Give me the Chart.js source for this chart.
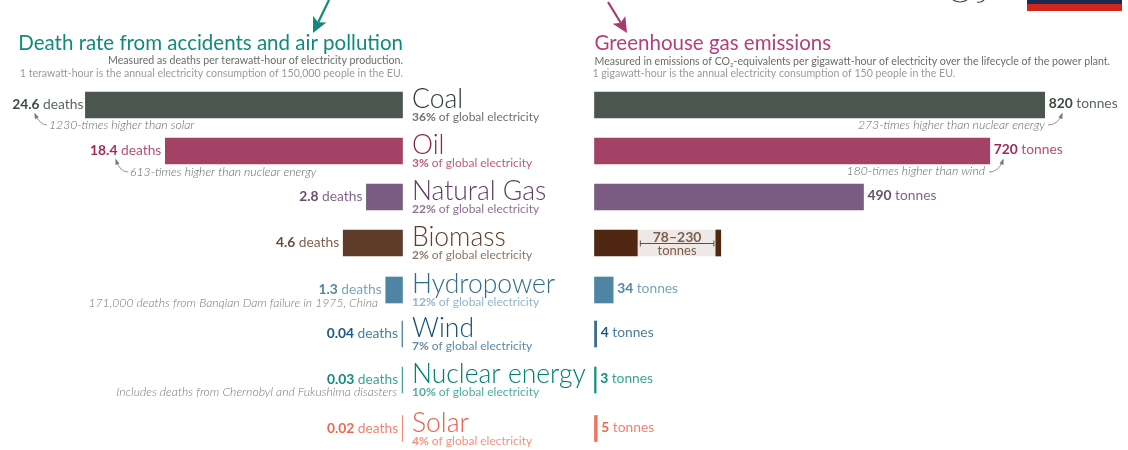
<!DOCTYPE html>
<html>
<head>
<meta charset="utf-8">
<title>Death rate and greenhouse gas emissions by energy source</title>
<script src="https://cdn.jsdelivr.net/npm/chart.js@4"></script>
<style>
  html, body { margin: 0; padding: 0; background: #fff; }
  #wrap { position: relative; width: 1128px; height: 450px; overflow: hidden; }
</style>
</head>
<body>
<div id="wrap"><canvas id="energyChart" width="1128" height="450"></canvas></div>
<script>
// data
const categories = ['Coal', 'Oil', 'Natural Gas', 'Biomass', 'Hydropower', 'Wind', 'Nuclear energy', 'Solar'];
const deathRates = [24.6, 18.4, 2.8, 4.6, 1.3, 0.04, 0.03, 0.02];
const emissions = [820, 720, 490, 78, 34, 4, 3, 5];
const biomassRange = [78, 230];
const biomassCapStart = 221;
const electricityShare = [36, 3, 22, 2, 12, 7, 10, 4];

// styles
const barColours = ['#4a564e', '#a34264', '#7a5b81', '#5f3b2a', '#5084a4', '#3c6f92', '#18917f', '#f4705c'];
const rightBarColours = ['#4a564e', '#a34264', '#7a5b81', '#502710', '#5084a4', '#3c6f92', '#18917f', '#f4705c'];
const nameColours = ['#2f3c34', '#8f2549', '#5e3d67', '#5f3e2a', '#2f6d90', '#124f76', '#00806e', '#ea5c45'];
const boldColours = ['#3d4a42', '#a32a58', '#6b4a73', '#6b4a35', '#4f86a6', '#1d5a80', '#0f8a78', '#ef6650'];
const unitColours = ['#5b665f', '#b34f75', '#83648b', '#7d5f4c', '#7aa3bb', '#4b7d9b', '#3ea595', '#f6806d'];
const shareColours = ['#6a736d', '#bb5c80', '#8f7196', '#8e7565', '#93b5c9', '#5e8aa6', '#4fae9f', '#f88f7e'];

// layout, in canvas pixels
const W = 1128;
const rowY = [105, 151, 197, 243, 290, 334, 380, 428.5];
const leftZero = 402.5, leftScale = 12.89;
const rightZero = 594.5, rightScale = 0.549;
const nameX = 412;
const FONT = 'Lato, "Open Sans", sans-serif';

function rows(values) {
  return values.map((v, i) => ({ x: v, y: rowY[i] }));
}

// draws a run of differently styled pieces; align is for the whole run
function drawRun(ctx, pieces, x, y, align) {
  let total = 0;
  pieces.forEach(p => { ctx.font = p.font; total += ctx.measureText(p.text).width; });
  let cx = align === 'right' ? x - total : x;
  ctx.textAlign = 'left';
  ctx.textBaseline = 'alphabetic';
  pieces.forEach(p => {
    ctx.font = p.font;
    ctx.fillStyle = p.color;
    ctx.fillText(p.text, cx, y + (p.dy || 0));
    cx += ctx.measureText(p.text).width;
  });
}

function text(ctx, s, x, y, font, color, align) {
  ctx.font = font;
  ctx.fillStyle = color;
  ctx.textAlign = align || 'left';
  ctx.textBaseline = 'alphabetic';
  ctx.fillText(s, x, y);
}

function curvedArrow(ctx, x0, y0, cx, cy, x1, y1) {
  ctx.strokeStyle = '#777';
  ctx.fillStyle = '#777';
  ctx.lineWidth = 0.8;
  ctx.beginPath();
  ctx.moveTo(x0, y0);
  ctx.quadraticCurveTo(cx, cy, x1, y1);
  ctx.stroke();
  const a = Math.atan2(y1 - cy, x1 - cx);
  ctx.beginPath();
  ctx.moveTo(x1 + 1.5 * Math.cos(a), y1 + 1.5 * Math.sin(a));
  ctx.lineTo(x1 + 5 * Math.cos(a + 2.7), y1 + 5 * Math.sin(a + 2.7));
  ctx.lineTo(x1 + 5 * Math.cos(a - 2.7), y1 + 5 * Math.sin(a - 2.7));
  ctx.closePath();
  ctx.fill();
}

function bigArrow(ctx, x0, y0, x1, y1, color) {
  const a = Math.atan2(y1 - y0, x1 - x0);
  const neck = 12;
  ctx.strokeStyle = color;
  ctx.fillStyle = color;
  ctx.lineWidth = 2.2;
  ctx.beginPath();
  ctx.moveTo(x0, y0);
  ctx.lineTo(x1 - neck * Math.cos(a), y1 - neck * Math.sin(a));
  ctx.stroke();
  ctx.beginPath();
  ctx.moveTo(x1, y1);
  ctx.lineTo(x1 - 17 * Math.cos(a + 0.45), y1 - 17 * Math.sin(a + 0.45));
  ctx.lineTo(x1 - neck * Math.cos(a), y1 - neck * Math.sin(a));
  ctx.lineTo(x1 - 17 * Math.cos(a - 0.45), y1 - 17 * Math.sin(a - 0.45));
  ctx.closePath();
  ctx.fill();
}

const textPlugin = {
  id: 'energyText',
  afterDatasetsDraw(chart) {
    const ctx = chart.ctx;
    const xL = chart.scales.xLeft, xR = chart.scales.xRight, yS = chart.scales.y;
    ctx.save();

    // headers
    text(ctx, 'Death rate from accidents and air pollution', 403, 50, '20.5px ' + FONT, '#0f8a7c', 'right');
    text(ctx, 'Measured as deaths per terawatt-hour of electricity production.', 403, 64, '10.6px ' + FONT, '#6b6b6b', 'right');
    text(ctx, '1 terawatt-hour is the annual electricity consumption of 150,000 people in the EU.', 403, 77, '10.6px ' + FONT, '#9a9a9a', 'right');
    text(ctx, 'Greenhouse gas emissions', 594.5, 50, '20.5px ' + FONT, '#b43f7b');
    drawRun(ctx, [
      { text: 'Measured in emissions of CO', font: '10.6px ' + FONT, color: '#6b6b6b' },
      { text: '2', font: '6px ' + FONT, color: '#6b6b6b', dy: 2 },
      { text: '-equivalents per gigawatt-hour of electricity over the lifecycle of the power plant.', font: '10.6px ' + FONT, color: '#6b6b6b' }
    ], 594.5, 65, 'left');
    text(ctx, '1 gigawatt-hour is the annual electricity consumption of 150 people in the EU.', 592.5, 77, '10.6px ' + FONT, '#9a9a9a');

    // arrows at the top
    bigArrow(ctx, 329, 0, 313, 33, '#14877b');
    bigArrow(ctx, 608, 2, 627, 33, '#a83a72');

    categories.forEach((name, i) => {
      const y = yS.getPixelForValue(rowY[i]);
      // centre labels
      text(ctx, name, nameX, y + 3, '300 26.5px ' + FONT, nameColours[i]);
      drawRun(ctx, [
        { text: electricityShare[i] + '%', font: 'bold 12px ' + FONT, color: shareColours[i] },
        { text: ' of global electricity', font: '12px ' + FONT, color: shareColours[i] }
      ], nameX, y + 16, 'left');

      // value labels
      const lx = xL.getPixelForValue(deathRates[i]) - (i === 0 ? 2 : 4);
      drawRun(ctx, [
        { text: String(deathRates[i]), font: 'bold 13.8px ' + FONT, color: boldColours[i] },
        { text: ' deaths', font: '13.8px ' + FONT, color: unitColours[i] }
      ], lx, y + 4, 'right');

      if (i !== 3) {
        const rx = xR.getPixelForValue(emissions[i]) + 4;
        drawRun(ctx, [
          { text: String(emissions[i]), font: 'bold 13.8px ' + FONT, color: boldColours[i] },
          { text: ' tonnes', font: '13.8px ' + FONT, color: unitColours[i] }
        ], rx, y + 3, 'left');
      }
    });

    // notes
    const note = 'italic 300 12.2px ' + FONT;
    text(ctx, '1230-times higher than solar', 49, 129, note, '#666');
    text(ctx, '613-times higher than nuclear energy', 130, 176, note, '#666');
    text(ctx, '171,000 deaths from Banqian Dam failure in 1975, China', 378, 307, note, '#777', 'right');
    text(ctx, 'Includes deaths from Chernobyl and Fukushima disasters', 397, 396, note, '#777', 'right');
    text(ctx, '273-times higher than nuclear energy', 1045, 129, note, '#666', 'right');
    text(ctx, '180-times higher than wind', 985, 175, note, '#666', 'right');
    curvedArrow(ctx, 47, 125, 40, 125, 35, 114);
    curvedArrow(ctx, 128, 172, 120, 172, 116, 160);
    curvedArrow(ctx, 1048, 125, 1058, 125, 1062, 114);
    curvedArrow(ctx, 989, 172, 999, 172, 1003, 160);

    // biomass range inside the band
    const by = yS.getPixelForValue(rowY[3]);
    const bx0 = xR.getPixelForValue(biomassRange[0]) + 3;
    const bx1 = xR.getPixelForValue(biomassCapStart) - 2;
    const bc = (bx0 + bx1) / 2;
    text(ctx, biomassRange[0] + '–' + biomassRange[1], bc, by - 1.5, 'bold 14px ' + FONT, '#7d5e4d', 'center');
    text(ctx, 'tonnes', bc, by + 12, '13px ' + FONT, '#7d5e4d', 'center');
    ctx.strokeStyle = '#6b4a38';
    ctx.lineWidth = 1;
    ctx.beginPath();
    ctx.moveTo(bx0, by + 0.5); ctx.lineTo(bx1, by + 0.5);
    ctx.moveTo(bx0, by - 2.5); ctx.lineTo(bx0, by + 3.5);
    ctx.moveTo(bx1, by - 2.5); ctx.lineTo(bx1, by + 3.5);
    ctx.stroke();

    // corner of the logo
    ctx.fillStyle = '#1a2a4f';
    ctx.fillRect(1027, 0, 95, 4);
    ctx.fillStyle = '#d0251c';
    ctx.fillRect(1027, 4, 95, 7);
    ctx.strokeStyle = '#444';
    ctx.lineWidth = 1.2;
    ctx.beginPath();
    ctx.moveTo(953, 0); ctx.quadraticCurveTo(960, 4, 967, 0);
    ctx.moveTo(977, 2); ctx.quadraticCurveTo(981, 3, 984, 0);
    ctx.stroke();

    ctx.restore();
  }
};

new Chart(document.getElementById('energyChart'), {
  type: 'bar',
  data: {
    datasets: [
      {
        label: 'Deaths per TWh',
        data: rows(deathRates),
        backgroundColor: barColours,
        xAxisID: 'xLeft', yAxisID: 'y',
        grouped: false, barThickness: 26
      },
      {
        label: 'Tonnes CO2-eq per GWh',
        data: rows(emissions),
        backgroundColor: rightBarColours,
        xAxisID: 'xRight', yAxisID: 'y',
        grouped: false, barThickness: 26, order: 1
      },
      {
        label: 'Biomass range',
        data: [{ x: biomassRange, y: rowY[3] }],
        backgroundColor: '#eee9e6',
        xAxisID: 'xRight', yAxisID: 'y',
        grouped: false, barThickness: 26, order: 2
      },
      {
        label: 'Biomass upper end',
        data: [{ x: [biomassCapStart, biomassRange[1]], y: rowY[3] }],
        backgroundColor: '#502710',
        xAxisID: 'xRight', yAxisID: 'y',
        grouped: false, barThickness: 26, order: 0
      }
    ]
  },
  options: {
    indexAxis: 'y',
    responsive: false,
    animation: false,
    layout: { padding: 0 },
    events: [],
    plugins: { legend: { display: false }, tooltip: { enabled: false } },
    scales: {
      y: { type: 'linear', display: false, reverse: true, offset: false, min: 0, max: 450 },
      xLeft: {
        type: 'linear', display: false, reverse: true,
        min: -(W - leftZero) / leftScale, max: leftZero / leftScale
      },
      xRight: {
        type: 'linear', display: false,
        min: -rightZero / rightScale, max: (W - rightZero) / rightScale
      }
    }
  },
  plugins: [textPlugin]
});
</script>
</body>
</html>
